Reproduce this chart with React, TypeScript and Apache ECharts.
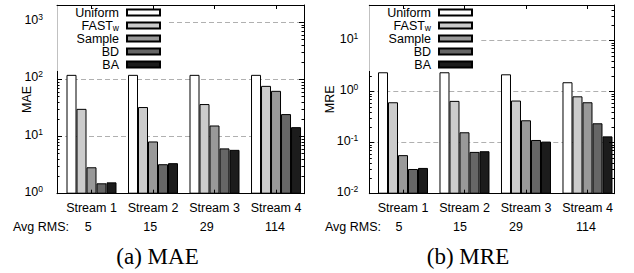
import React, { useEffect, useRef } from 'react';
import * as echarts from 'echarts';

const STREAMS = ['Stream 1', 'Stream 2', 'Stream 3', 'Stream 4'];
const AVG_RMS = ['5', '15', '29', '114'];
const METHODS = ['Uniform', 'FAST_w', 'Sample', 'BD', 'BA'];
const COLORS = ['#ffffff', '#cccccc', '#999999', '#666666', '#1c1c1c'];

const MAE_UNIFORM = [120, 120, 120, 120];
const MAE_FASTW = [30.5, 32.8, 37, 77];
const MAE_SAMPLE = [2.9, 8.2, 15.6, 63];
const MAE_BD = [1.52, 3.28, 6.2, 24.7];
const MAE_BA = [1.58, 3.42, 5.85, 14.6];

const MRE_UNIFORM = [2.4, 2.4, 2.19, 1.53];
const MRE_FASTW = [0.62, 0.66, 0.67, 0.81];
const MRE_SAMPLE = [0.057, 0.16, 0.275, 0.62];
const MRE_BD = [0.0305, 0.066, 0.113, 0.24];
const MRE_BA = [0.032, 0.068, 0.105, 0.133];

const FONT = '"Liberation Sans", Arial, Helvetica, sans-serif';
const SERIF = '"Liberation Serif", "Times New Roman", serif';

const PANELS = [
  {
    name: 'MAE', caption: '(a) MAE',
    series: [MAE_UNIFORM, MAE_FASTW, MAE_SAMPLE, MAE_BD, MAE_BA],
    yMin: 1, yMax: 2000, scale: 1, expShift: 0,
    grid: { left: 57, top: 5, width: 247, height: 188.7 },
    xMin: -0.561, xMax: 3.455, labelMargin: 14, nameGap: 24, legendRight: 466,
    avgX: 13, rmsX: [88.3, 150.3, 206.7, 275], capX: 157.5,
  },
  {
    name: 'MRE', caption: '(b) MRE',
    series: [MRE_UNIFORM, MRE_FASTW, MRE_SAMPLE, MRE_BD, MRE_BA],
    yMin: 0.01, yMax: 50, scale: 100, expShift: -2,
    grid: { left: 369.3, top: 5, width: 244.7, height: 188.7 },
    xMin: -0.548, xMax: 3.431, labelMargin: 11, nameGap: 33, legendRight: 154,
    avgX: 325, rmsX: [399, 460, 516, 586], capX: 468,
  },
];

function decades(min: number, max: number): number[] {
  const out: number[] = [];
  for (let d = min; d <= max; d *= 10) out.push(d);
  return out;
}
function minors(min: number, max: number): number[] {
  const out: number[] = [];
  for (let d = min; d < max; d *= 10) {
    for (let k = 2; k <= 9; k++) {
      const v = d * k;
      if (v < max) out.push(v);
    }
  }
  return out;
}

export default function App() {
  const ref = useRef<HTMLDivElement>(null);
  useEffect(() => {
    if (!ref.current) return;
    const chart = echarts.init(ref.current, undefined, { renderer: 'svg' });
    const grids: any[] = [];
    const xAxes: any[] = [];
    const yAxes: any[] = [];
    const series: any[] = [];
    const legends: any[] = [];
    const graphics: any[] = [];

    PANELS.forEach((p, pi) => {
      grids.push({ ...p.grid, containLabel: false, outerBoundsMode: 'none', show: false });
      const yMin = p.yMin * p.scale;
      const yMax = p.yMax * p.scale;
      const major = decades(yMin, yMax);
      const minor = minors(yMin, yMax);
      const baseX = {
        type: 'value', gridIndex: pi, min: p.xMin, max: p.xMax,
        splitLine: { show: false },
        axisLine: { show: true, onZero: false, lineStyle: { color: '#000', width: 1 } },
        axisTick: { show: true, inside: true, length: 4, customValues: [0, 1, 2, 3], lineStyle: { color: '#000' } },
        z: 5,
      };
      xAxes.push({
        ...baseX, position: 'bottom',
        axisLabel: {
          show: true, customValues: [0, 1, 2, 3], margin: 7.5,
          fontSize: 12.5, color: '#000', fontFamily: FONT,
          formatter: (v: number) => STREAMS[Math.round(v)] ?? '',
        },
      });
      xAxes.push({ ...baseX, position: 'top', axisLabel: { show: false } });

      const baseY = {
        type: 'log', logBase: 10, gridIndex: pi, min: yMin, max: yMax,
      };
      yAxes.push({
        ...baseY, position: 'left',
        name: p.name, nameLocation: 'middle', nameGap: p.nameGap, nameMoveOverlap: false,
        nameTextStyle: { fontSize: 12.5, color: '#000', fontFamily: FONT },
        axisLine: { show: true, onZero: false, lineStyle: { color: '#000', width: 1 } },
        axisTick: { show: true, inside: true, length: 5, customValues: major, lineStyle: { color: '#000' } },
        splitLine: { show: true, lineStyle: { color: '#b0b0b0', width: 1, type: [5, 3] } },
        axisLabel: {
          show: true, customValues: major, margin: p.labelMargin, color: '#000', fontFamily: FONT,
          padding: [0, 0, 5, 0],
          formatter: (v: number) => `{b|10}{s|${Math.round(Math.log10(v)) + p.expShift}}`,
          rich: {
            b: { fontSize: 12.5, lineHeight: 14, verticalAlign: 'bottom', fontFamily: FONT, color: '#000' },
            s: { fontSize: 8.5, lineHeight: 10, verticalAlign: 'top', padding: [0, 0, 7, 0], fontFamily: FONT, color: '#000' },
          },
        },
      });
      yAxes.push({
        ...baseY, position: 'left',
        axisLine: { show: false, onZero: false }, splitLine: { show: false }, axisLabel: { show: false },
        axisTick: { show: true, inside: true, length: 2.5, customValues: minor, lineStyle: { color: '#000' } },
      });
      yAxes.push({
        ...baseY, position: 'right', z: 5,
        axisLine: { show: true, onZero: false, lineStyle: { color: '#000', width: 1 } },
        splitLine: { show: false }, axisLabel: { show: false },
        axisTick: { show: true, inside: true, length: 5, customValues: major, lineStyle: { color: '#000' } },
      });
      yAxes.push({
        ...baseY, position: 'right',
        axisLine: { show: false, onZero: false }, splitLine: { show: false }, axisLabel: { show: false },
        axisTick: { show: true, inside: true, length: 2.5, customValues: minor, lineStyle: { color: '#000' } },
      });

      p.series.forEach((vals, mi) => {
        series.push({
          type: 'bar', name: METHODS[mi],
          xAxisIndex: pi * 2, yAxisIndex: pi * 4,
          barWidth: 10, barGap: '0%',
          data: vals.map((v, i) => [i, v * p.scale]),
          itemStyle: { color: COLORS[mi], borderColor: '#000', borderWidth: 1 },
          z: 2,
        });
      });

      legends.push({
        data: METHODS, orient: 'vertical', align: 'right', selectedMode: false,
        right: p.legendRight, top: 3, itemWidth: 33, itemHeight: 6, itemGap: 0,
        padding: [3, 7, 0, 18], backgroundColor: '#ffffff', icon: 'rect',
        formatter: (n: string) => (n === 'FAST_w' ? 'FAST{sub|w}' : n),
        textStyle: {
          fontSize: 12.5, lineHeight: 13, color: '#000', fontFamily: FONT, padding: [0, 3, 0, 0],
          rich: {
            sub: { fontSize: 8.5, lineHeight: 3, verticalAlign: 'bottom', color: '#000', fontFamily: FONT },
          },
        },
      });

      const rowY = 226.7;
      graphics.push({
        type: 'text', x: p.avgX, y: rowY,
        style: { text: 'Avg RMS:', fontSize: 12.5, fontFamily: FONT, fill: '#000', align: 'left', verticalAlign: 'middle', textAlign: 'left', textVerticalAlign: 'middle' },
      });
      AVG_RMS.forEach((t, i) => {
        graphics.push({
          type: 'text', x: p.rmsX[i], y: rowY,
          style: { text: t, fontSize: 12.5, fontFamily: FONT, fill: '#000', align: 'center', verticalAlign: 'middle', textAlign: 'center', textVerticalAlign: 'middle' },
        });
      });
      graphics.push({
        type: 'text', x: p.capX, y: 256.7,
        style: { text: p.caption, fontSize: 23, fontFamily: SERIF, fill: '#000', align: 'center', verticalAlign: 'middle', textAlign: 'center', textVerticalAlign: 'middle' },
      });
    });

    chart.setOption({
      animation: false,
      backgroundColor: '#ffffff',
      textStyle: { fontFamily: FONT },
      grid: grids,
      xAxis: xAxes,
      yAxis: yAxes,
      legend: legends,
      series,
      graphic: graphics,
    });
    return () => chart.dispose();
  }, []);
  return <div ref={ref} style={{ position: 'absolute', left: 0, top: 0, width: 634, height: 273 }} />;
}
